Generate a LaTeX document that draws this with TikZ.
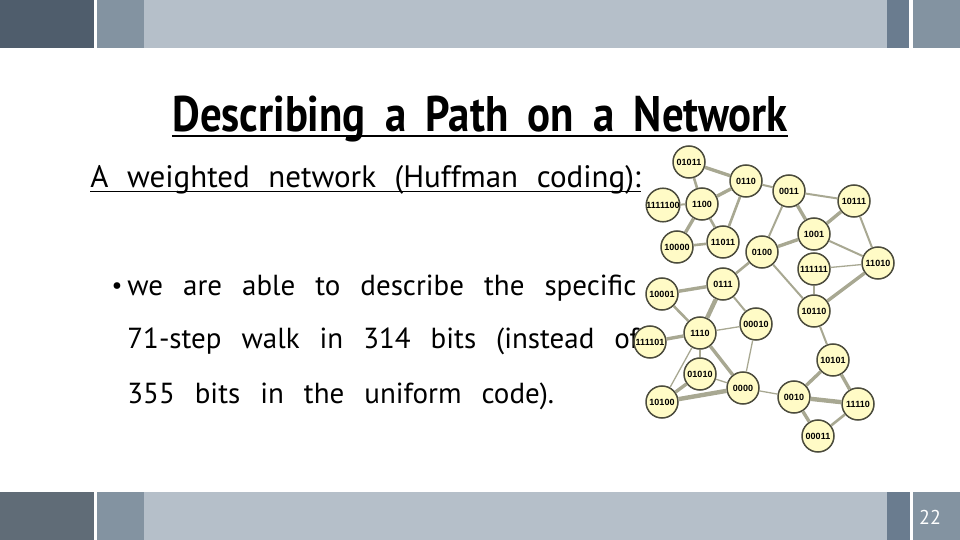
\documentclass[tikz,border=0pt]{standalone}
\usepackage{fontspec}
\setmainfont{PT Sans}
\newfontfamily\codefont{Liberation Sans}
\usetikzlibrary{positioning}
\newcommand\wordgap[1]{\spaceskip=#1\relax}

\definecolor{bardark}{HTML}{4F5D6C}
\definecolor{bardarklow}{HTML}{606C77}
\definecolor{barmid}{HTML}{8393A1}
\definecolor{barlight}{HTML}{B5BFC9}
\definecolor{barslate}{HTML}{6A7C8F}
\definecolor{ndfill}{HTML}{FFFBC6}
\definecolor{ndline}{HTML}{4B4B3C}
\definecolor{edgecol}{HTML}{A8A892}

\begin{document}
\begin{tikzpicture}[x=0.5pt, y=-0.5pt,
    nd/.style={circle, draw=ndline, line width=0.75pt, fill=ndfill,
               minimum size=16pt, inner sep=0pt,
               font=\codefont\bfseries\fontsize{4.5}{5}\selectfont},
    e/.style={draw=edgecol},
    w1/.style={e, line width=0.65pt},
    w2/.style={e, line width=1pt},
    w3/.style={e, line width=1.3pt},
    w4/.style={e, line width=1.7pt},
    w5/.style={e, line width=2.2pt},
    txt/.style={anchor=base west, inner sep=0pt,
                font={\fontsize{14.5}{16}\selectfont\wordgap{0.69em}}},
  ]
  \useasboundingbox (0,0) rectangle (960,540);
  % bars
  \fill[bardark] (0,0) rectangle (94,48);
  \fill[barmid] (97,0) rectangle (144,48);
  \fill[barlight] (144,0) rectangle (887,48);
  \fill[barslate] (887,0) rectangle (909,48);
  \fill[barmid] (913,0) rectangle (960,48);
  \fill[bardarklow] (0,492) rectangle (94,540);
  \fill[barmid] (97,492) rectangle (144,540);
  \fill[barlight] (144,492) rectangle (887,540);
  \fill[barslate] (887,492) rectangle (910,540);
  \fill[barmid] (913,492) rectangle (960,540);
  \node[text=white, font=\fontsize{10}{12}\selectfont] (page) at (930,517) {22};

  % text
  \node[anchor=base, inner sep=0pt, font=\bfseries\fontsize{25}{28}\selectfont]
    (title) at (480,132) {\scalebox{0.857}[1]{Describing\hspace{0.45em}a\hspace{0.45em}Path\hspace{0.45em}on\hspace{0.45em}a\hspace{0.45em}Network}};
  \draw[line width=1pt] ([yshift=-2.2pt]title.base west) -- ([yshift=-2.2pt]title.base east);
  \node[anchor=base west, inner sep=0pt, font={\fontsize{15.5}{18}\selectfont\wordgap{0.6em}}]
    (sub) at (90,188) {A weighted network (Huffman coding):};
  \draw[line width=0.6pt] ([yshift=-1.8pt]sub.base west) -- ([yshift=-1.8pt]sub.base east);
  \node[anchor=base, inner sep=0pt, font=\fontsize{12}{14}\selectfont] (dot) at (117,293) {•};
  \node[txt] (l1) at (127,295) {we are able to describe the specific};
  \node[txt] (l2) at (127,349) {71-step walk in 314 bits (instead of};
  \node[txt] (l3) at (127,403) {355 bits in the uniform code).};

  % network
  \node[nd] (n01011) at (689,162) {01011};
  \node[nd] (n0110) at (746,181) {0110};
  \node[nd] (n0011) at (789,191) {0011};
  \node[nd] (n10111) at (854,201) {10111};
  \node[nd] (n1111100) at (663,205) {1111100};
  \node[nd] (n1100) at (702,204) {1100};
  \node[nd] (n1001) at (814,234) {1001};
  \node[nd] (n10000) at (677,247) {10000};
  \node[nd] (n11011) at (723,242) {11011};
  \node[nd] (n0100) at (762,252) {0100};
  \node[nd] (n111111) at (814,269) {111111};
  \node[nd] (n11010) at (878,263) {11010};
  \node[nd] (n0111) at (723,284) {0111};
  \node[nd] (n10001) at (662,294) {10001};
  \node[nd] (n10110) at (814,311) {10110};
  \node[nd] (n00010) at (756,324) {00010};
  \node[nd] (n1110) at (700,333) {1110};
  \node[nd] (n111101) at (650,342) {111101};
  \node[nd] (n10101) at (833,360) {10101};
  \node[nd] (n01010) at (700,374) {01010};
  \node[nd] (n0000) at (743,388) {0000};
  \node[nd] (n0010) at (794,397) {0010};
  \node[nd] (n10100) at (662,402) {10100};
  \node[nd] (n11110) at (858,404) {11110};
  \node[nd] (n00011) at (818,436) {00011};

  \draw[w4] (n01011) -- (n0110);
  \draw[w3] (n01011) -- (n1100);
  \draw[w4] (n0110) -- (n1100);
  \draw[w2] (n0110) -- (n0011);
  \draw[w3] (n0110) -- (n11011);
  \draw[w2] (n1111100) -- (n1100);
  \draw[w4] (n1100) -- (n10000);
  \draw[w3] (n1100) -- (n11011);
  \draw[w3] (n10000) -- (n11011);
  \draw[w2] (n0011) -- (n10111);
  \draw[w4] (n0011) -- (n1001);
  \draw[w2] (n0011) -- (n0100);
  \draw[w4] (n10111) -- (n1001);
  \draw[w2] (n10111) -- (n11010);
  \draw[w4] (n1001) -- (n0100);
  \draw[w2] (n1001) -- (n11010);
  \draw[w1] (n111111) -- (n11010);
  \draw[w2] (n111111) -- (n10110);
  \draw[w4] (n11010) -- (n10110);
  \draw[w3] (n0100) -- (n0111);
  \draw[w2] (n0100) -- (n10110);
  \draw[w4] (n0111) -- (n10001);
  \draw[w5] (n0111) -- (n1110);
  \draw[w2] (n0111) -- (n00010);
  \draw[w3] (n10001) -- (n1110);
  \draw[w1] (n1110) -- (n00010);
  \draw[w4] (n111101) -- (n1110);
  \draw[w1] (n1110) -- (n01010);
  \draw[w4] (n1110) -- (n0000);
  \draw[w1] (n1110) -- (n10100);
  \draw[w1] (n00010) -- (n0000);
  \draw[w1] (n01010) -- (n0000);
  \draw[w4] (n01010) -- (n10100);
  \draw[w5] (n10100) -- (n0000);
  \draw[w1] (n0000) -- (n0010);
  \draw[w2] (n10110) -- (n10101);
  \draw[w4] (n10101) -- (n0010);
  \draw[w4] (n10101) -- (n11110);
  \draw[w5] (n0010) -- (n11110);
  \draw[w4] (n0010) -- (n00011);
  \draw[w3] (n11110) -- (n00011);
\end{tikzpicture}
\end{document}
